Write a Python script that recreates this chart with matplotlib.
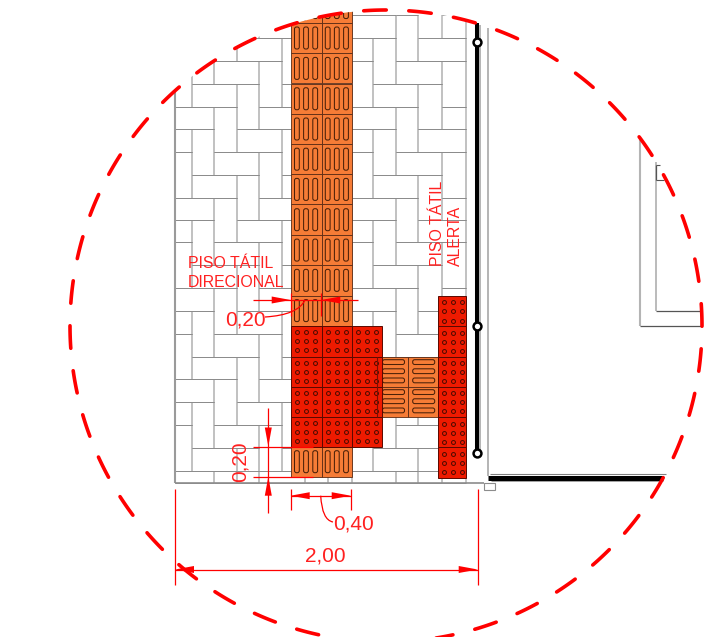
import numpy as np
import matplotlib
matplotlib.use('Agg')
import matplotlib.pyplot as plt
from matplotlib.patches import Rectangle, Circle, FancyBboxPatch, PathPatch, Polygon
from matplotlib.path import Path

plt.rcParams['font.family'] = ['Liberation Sans', 'DejaVu Sans']

# paving grid (pixels)
paver_x = [169.3, 192, 214, 236.7, 259.3, 281.7, 305, 328, 351.7, 373.3, 396, 418.3, 441.7, 465.7]
paver_y = [470.7, 447.8, 425, 402.3, 379.3, 356.5, 334, 311, 288.3, 265, 242, 219.6, 197.5, 175,
           152, 129, 107, 84, 61, 38, 15]

# tactile tiles
dir_x = [290.7, 321.5, 351.7]
dir_y = [22.7, 53.3, 83.5, 114, 144, 174.4, 204.4, 235, 265.2, 295.5, 325.7]
dir_y_top_cut = -7.6
dir_y_low = [446.7, 476.7]
red_x = [290.7, 321.5, 351.7, 381.7]
red_y = [325.7, 356.7, 386.7, 416.7, 446.7]
conn_x = [377.3, 407.7, 437.7]
conn_y = [356.7, 386.7, 416.7]
alert_x = [437.7, 466]
alert_y = [296, 326.3, 356.7, 386.7, 417.3, 447.3, 477.7]
stud_offsets = [6.2, 15.3, 24.5]

# detail circle
circle_c = (386, 326)
circle_r = 316
n_dashes = 44
dash_first_deg = -2.0
dash_span_deg = 4.35

post_y = [42, 326, 453]

ORANGE = '#f67c36'
RED = '#ee1a00'
TILE_EDGE = '#5a2a14'
DIM = '#ff0000'
GRID_H = '#8c8c8c'
GRID_V = '#c2c2c2'

fig = plt.figure(figsize=(7.22, 6.37), dpi=100)
ax = fig.add_axes([0, 0, 1, 1])
ax.set_xlim(0, 722)
ax.set_ylim(637, 0)
ax.axis('off')

clip = Circle(circle_c, circle_r, transform=ax.transData)


def seg(x0, y0, x1, y1, color, lw, z=2, clipped=False):
    l, = ax.plot([x0, x1], [y0, y1], color=color, lw=lw, zorder=z, solid_capstyle='butt')
    if clipped:
        l.set_clip_path(clip)
    return l


def row_top(k):
    return paver_y[k] if k < len(paver_y) else -10


def row_bot(k):
    return paver_y[k - 1] if k > 0 else 482.5


def col_x(c):
    i = max(min(c + 1, len(paver_x) - 1), 0)
    return max(paver_x[i], 175)


def paver(x0, y0, x1, y1):
    seg(x0, y0, x0, y1, GRID_V, 1.3, z=1.9, clipped=True)
    seg(x1, y0, x1, y1, GRID_V, 1.3, z=1.9, clipped=True)
    seg(x0, y0, x1, y0, GRID_H, 0.7, clipped=True)
    seg(x0, y1, x1, y1, GRID_H, 0.7, clipped=True)


# herringbone paving
for k in range(len(paver_y)):
    for c in range(-2, len(paver_x) - 1):
        m = (c - k) % 4
        if m == 3:
            paver(col_x(c), row_top(k), col_x(c + 2), row_bot(k))
        elif m == 1 and c >= -1 and k > 0:
            paver(col_x(c), row_top(k), col_x(c + 1), row_bot(k - 1))
        elif m == 1 and c >= -1:
            paver(col_x(c), row_top(k), col_x(c + 1), row_bot(k))
        elif m == 2 and k == 0 and c >= -1:
            paver(col_x(c), row_top(k), col_x(c + 1), row_bot(k))
seg(175, 92, 175, 482.5, '#9a9a9a', 1.5, clipped=True)
seg(175, 482.5, 484, 482.5, '#8c8c8c', 1.2)


def tile(x0, y0, x1, y1, face, clipped=False):
    r = Rectangle((x0, y0), x1 - x0, y1 - y0, facecolor=face, edgecolor=TILE_EDGE, lw=0.6, zorder=3)
    ax.add_patch(r)
    if clipped:
        r.set_clip_path(clip)


def slot(cx, cy, w, h, clipped=False):
    p = FancyBboxPatch((cx - w / 2 + 2, cy - h / 2 + 2), w - 4, h - 4, boxstyle='round,pad=2',
                       facecolor='none', edgecolor='#4a2008', lw=0.75, zorder=4, mutation_aspect=1)
    ax.add_patch(p)
    if clipped:
        p.set_clip_path(clip)


# directional strip
for i in range(len(dir_x) - 1):
    rows = [dir_y_top_cut] + dir_y
    for j in range(len(rows) - 1):
        tile(dir_x[i], rows[j], dir_x[i + 1], rows[j + 1], ORANGE, clipped=True)
        for off in stud_offsets:
            slot(dir_x[i] + off, (rows[j] + rows[j + 1]) / 2, 4.8, 22, clipped=True)
    tile(dir_x[i], dir_y_low[0], dir_x[i + 1], dir_y_low[1], ORANGE)
    for off in stud_offsets:
        slot(dir_x[i] + off, sum(dir_y_low) / 2, 4.8, 22)

# connector between the two alert areas
for i in range(len(conn_x) - 1):
    for j in range(len(conn_y) - 1):
        tile(conn_x[i], conn_y[j], conn_x[i + 1], conn_y[j + 1], ORANGE)
        for off in stud_offsets:
            slot((conn_x[i] + conn_x[i + 1]) / 2 + 1, conn_y[j] + off - 0.8, 22, 4.8)


def studs(x0, y0):
    xs = [x0 + o for o in stud_offsets for _ in stud_offsets]
    ys = [y0 + o for _ in stud_offsets for o in stud_offsets]
    ax.scatter(xs, ys, s=8, facecolor=RED, edgecolor='#4a0a00', linewidth=0.7, zorder=6)


# alert blocks
for i in range(len(red_x) - 1):
    for j in range(len(red_y) - 1):
        ax.add_patch(Rectangle((red_x[i], red_y[j]), red_x[i + 1] - red_x[i], red_y[j + 1] - red_y[j],
                               facecolor=RED, edgecolor='#5a0800', lw=0.7, zorder=5))
        studs(red_x[i], red_y[j])
for j in range(len(alert_y) - 1):
    ax.add_patch(Rectangle((alert_x[0], alert_y[j]), alert_x[1] - alert_x[0], alert_y[j + 1] - alert_y[j],
                           facecolor=RED, edgecolor='#5a0800', lw=0.7, zorder=5))
    studs(alert_x[0], alert_y[j])
seg(conn_x[0], conn_y[0], conn_x[0], conn_y[-1], '#7a1000', 0.8, z=6)

# wall and railing
seg(476.5, 23, 476.5, 453, 'black', 2.9, z=7)
seg(480, 25, 480, 453, '#a8a8a8', 1.2, z=7)
seg(488, 28, 488, 476, '#b4b4b4', 1.4, z=2)
for y in post_y:
    ax.scatter([477], [y], s=32, facecolor='white', edgecolor='black', linewidth=1.8, zorder=8)

# door and corner piece
seg(488, 478, 663, 478, 'black', 3.6, z=7)
seg(490, 474.3, 666, 474.3, '#808080', 0.8, z=7)
seg(491, 481, 663, 481, '#909090', 0.6, z=7)
ax.add_patch(Rectangle((483.5, 483), 11.5, 7, facecolor='white', edgecolor='#8c8c8c', lw=0.8, zorder=6))

# neighbouring wall on the right
seg(640, 140, 640, 326, '#b4b4b4', 1.5)
seg(640, 326, 702, 326, '#555555', 0.9)
seg(656, 162, 656, 311, '#a8a8a8', 1.1)
seg(656, 311, 700, 311, '#555555', 0.9)
seg(656, 165, 660, 165, '#555555', 0.8)
seg(656, 180, 664, 180, '#555555', 0.8)
seg(656, 165, 656, 180, '#555555', 0.9)

# dashed detail circle
for i in range(n_dashes):
    mid = np.radians(dash_first_deg + i * 360 / n_dashes)
    half = np.radians(dash_span_deg / 2 * 0.94)
    t = np.linspace(mid - half, mid + half, 12)
    ax.plot(circle_c[0] + circle_r * np.cos(t), circle_c[1] + circle_r * np.sin(t),
            color=DIM, lw=2.6, solid_capstyle='round', zorder=9)


def dim_line(x0, y0, x1, y1, lw=0.9):
    seg(x0, y0, x1, y1, DIM, lw, z=10)


def arrow(tx, ty, dx, dy, length=19, half=3.5):
    ax.add_patch(Polygon([(tx, ty), (tx + dx * length - dy * half, ty + dy * length - dx * half),
                          (tx + dx * length + dy * half, ty + dy * length + dx * half)],
                         closed=True, facecolor=DIM, edgecolor='none', zorder=10))


def leader(p0, p1, p2):
    ax.add_patch(PathPatch(Path([p0, p1, p2], [Path.MOVETO, Path.CURVE3, Path.CURVE3]),
                           facecolor='none', edgecolor=DIM, lw=0.9, zorder=10))


# 0,20 horizontal
dim_line(253, 300, 358, 300)
dim_line(290.7, 293, 290.7, 316)
dim_line(321.3, 293, 321.3, 316)
arrow(290.7, 300, -1, 0)
arrow(321.3, 300, 1, 0)
leader((305, 300), (298, 315), (265, 317))
# 0,20 vertical
dim_line(268.3, 408, 268.3, 513)
dim_line(253, 446.5, 313, 446.5)
dim_line(253, 476.7, 313, 476.7)
arrow(268.3, 446.5, 0, -1)
arrow(268.3, 476.7, 0, 1)
# 0,40
dim_line(290.7, 495.7, 350.7, 495.7)
dim_line(290.7, 489, 290.7, 510)
dim_line(350.7, 489, 350.7, 510)
arrow(290.7, 495.7, 1, 0)
arrow(350.7, 495.7, -1, 0)
leader((320.7, 495.7), (322, 520), (333, 522))
# 2,00
dim_line(175, 569.5, 477.7, 569.5)
dim_line(174.7, 489, 174.7, 585)
dim_line(477.7, 489, 477.7, 585)
arrow(175, 569.5, 1, 0)
arrow(477.7, 569.5, -1, 0)

txt = dict(color='#ff2020', zorder=11, rotation_mode='anchor', va='baseline', ha='left')
ax.text(188, 267.5, 'PISO TÁTIL', fontsize=11.4, **txt)
ax.text(188, 287, 'DIRECIONAL', fontsize=11.4, **txt)
ax.text(441.5, 265.5, 'PISO TÁTIL', fontsize=11.4, rotation=90, **txt)
ax.text(460, 265.5, 'ALERTA', fontsize=11.4, rotation=90, **txt)
ax.text(225, 325, '0,20', fontsize=15, **txt)
ax.text(246, 482, '0,20', fontsize=15, rotation=90, **txt)
ax.text(333, 530, '0,40', fontsize=15, **txt)
ax.text(305, 562, '2,00', fontsize=15, **txt)

fig.savefig('out.png', dpi=100)
